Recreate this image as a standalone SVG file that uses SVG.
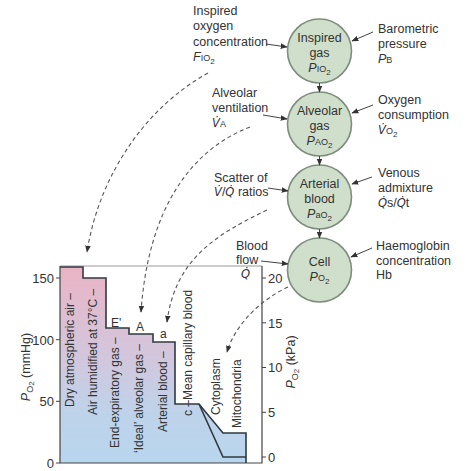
<svg xmlns="http://www.w3.org/2000/svg" width="474" height="471" viewBox="0 0 474 471">
<defs>
<style>
text{font-family:"Liberation Sans",Arial,"DejaVu Sans",sans-serif;fill:#333;font-size:12.5px}
.c{text-anchor:middle}
.dv{font-family:"DejaVu Sans",sans-serif;font-size:11.5px;font-style:italic}
.lbl{font-size:12px}
.tk{font-size:13px}
.node circle{fill:#cfdfcb;stroke:#7d8d7b;stroke-width:1.6}
.arr{stroke:#444;stroke-width:1;fill:none;marker-end:url(#ah)}
.dash{stroke:#555;stroke-width:1.1;fill:none;stroke-dasharray:4 3;marker-end:url(#ah)}
.curve{stroke:#2f3a40;stroke-width:1.6;fill:none}
.ax{stroke:#444;stroke-width:1.2;fill:none}
</style>
<marker id="ah" viewBox="0 0 10 10" refX="9" refY="5" markerWidth="7" markerHeight="7" markerUnits="userSpaceOnUse" orient="auto">
<path d="M0,1 L10,5 L0,9 Z" fill="#333"/>
</marker>
<linearGradient id="g" x1="0" y1="266" x2="0" y2="463" gradientUnits="userSpaceOnUse">
<stop offset="0" stop-color="#eab4c4"/>
<stop offset="0.45" stop-color="#d3c6dc"/>
<stop offset="0.75" stop-color="#bed3ea"/>
<stop offset="1" stop-color="#b8d6ee"/>
</linearGradient>
</defs>
<rect width="474" height="471" fill="#fff"/>

<g id="chart">
<path d="M60,267 H83 V278 H106 V328 H129 V334 H153 V342 H175 V404 H199 L223,433 H246 V463 H60 Z" fill="url(#g)"/>
<line x1="60" y1="266" x2="262" y2="266" stroke="#999" stroke-width="1.2"/>
<path class="ax" d="M60,266 V463 H262 V266"/>
<path class="curve" d="M60,267 H83 V278 H106 V328 H129 V334 H153 V342 H175 V404 H199 L223,433 H246 V463"/>
<path class="curve" d="M199,404 L223,457 H246"/>
<g stroke="#444" stroke-width="1">
<line x1="56" y1="278" x2="60" y2="278"/><line x1="56" y1="339.7" x2="60" y2="339.7"/><line x1="56" y1="401.3" x2="60" y2="401.3"/><line x1="56" y1="463" x2="60" y2="463"/>
<line x1="262" y1="278" x2="266" y2="278"/><line x1="262" y1="322.8" x2="266" y2="322.8"/><line x1="262" y1="367.5" x2="266" y2="367.5"/><line x1="262" y1="412.3" x2="266" y2="412.3"/><line x1="262" y1="457" x2="266" y2="457"/>
</g>
<g class="tk" text-anchor="end">
<text x="54" y="283" class="tk">150</text><text x="54" y="345" class="tk">100</text><text x="54" y="406" class="tk">50</text><text x="54" y="468" class="tk">0</text>
</g>
<text x="268" y="283" class="tk">20</text><text x="268" y="328" class="tk">15</text><text x="268" y="372" class="tk">10</text><text x="268" y="417" class="tk">5</text><text x="268" y="462" class="tk">0</text>
<text class="c" font-size="13" transform="translate(30,367) rotate(-90)"><tspan font-style="italic">P</tspan><tspan font-size="9" dy="3">O</tspan><tspan font-size="8" dy="1">2</tspan><tspan dy="-4"> (mmHg)</tspan></text>
<text class="c" font-size="13" transform="translate(295,362) rotate(-90)"><tspan font-style="italic">P</tspan><tspan font-size="9" dy="3">O</tspan><tspan font-size="8" dy="1">2</tspan><tspan dy="-4"> (kPa)</tspan></text>
<text class="lbl" transform="translate(74,407) rotate(-90)">Dry atmospheric air –</text>
<text class="lbl" transform="translate(97,415) rotate(-90)">Air humidified at 37°C –</text>
<text class="lbl" transform="translate(119,448) rotate(-90)">End-expiratory gas –</text>
<text class="lbl" transform="translate(143,453) rotate(-90)">‘Ideal’ alveolar gas –</text>
<text class="lbl" transform="translate(167,432) rotate(-90)">Arterial blood –</text>
<text class="lbl" transform="translate(192,416) rotate(-90)">c –Mean capillary blood</text>
<text class="lbl" transform="translate(220,415) rotate(-90)">Cytoplasm</text>
<text class="lbl" transform="translate(241,428) rotate(-90)">Mitochondria</text>
<text x="111" y="327" class="lbl">E'</text>
<text x="136" y="331" class="lbl">A</text>
<text x="160" y="338" class="lbl">a</text>
</g>

<g id="node-inspired" class="node">
<circle cx="319.5" cy="51" r="32"/>
<text x="319.5" y="42" class="c">Inspired</text>
<text x="319.5" y="57" class="c">gas</text>
<text x="319.5" y="72" class="c"><tspan font-style="italic">P</tspan><tspan font-size="9">IO</tspan><tspan font-size="8" dy="3">2</tspan></text>
</g>
<g id="node-alveolar" class="node">
<circle cx="319.5" cy="124" r="32"/>
<text x="319.5" y="115" class="c">Alveolar</text>
<text x="319.5" y="130" class="c">gas</text>
<text x="319.5" y="145" class="c"><tspan font-style="italic">P</tspan><tspan font-size="9">AO</tspan><tspan font-size="8" dy="3">2</tspan></text>
</g>
<g id="node-arterial" class="node">
<circle cx="319.5" cy="197" r="32"/>
<text x="319.5" y="188" class="c">Arterial</text>
<text x="319.5" y="203" class="c">blood</text>
<text x="319.5" y="218" class="c"><tspan font-style="italic">P</tspan><tspan font-size="9">aO</tspan><tspan font-size="8" dy="3">2</tspan></text>
</g>
<g id="node-cell" class="node">
<circle cx="319.5" cy="270" r="32"/>
<text x="319.5" y="266" class="c">Cell</text>
<text x="319.5" y="281" class="c"><tspan font-style="italic">P</tspan><tspan font-size="9">O</tspan><tspan font-size="8" dy="3">2</tspan></text>
</g>

<g id="labels">
<text x="193" y="15">Inspired</text>
<text x="193" y="30">oxygen</text>
<text x="193" y="46">concentration</text>
<text x="193" y="61"><tspan font-style="italic">F</tspan><tspan font-size="9">IO</tspan><tspan font-size="8" dy="3">2</tspan></text>
<text x="378" y="33">Barometric</text>
<text x="378" y="48">pressure</text>
<text x="378" y="63"><tspan font-style="italic">P</tspan><tspan font-size="9">B</tspan></text>
<text x="212" y="97">Alveolar</text>
<text x="212" y="112">ventilation</text>
<text x="212" y="127"><tspan class="dv">V̇</tspan><tspan font-size="9">A</tspan></text>
<text x="378" y="104">Oxygen</text>
<text x="378" y="119">consumption</text>
<text x="378" y="134"><tspan class="dv">V̇</tspan><tspan font-size="9">O</tspan><tspan font-size="8" dy="3">2</tspan></text>
<text x="214" y="182">Scatter of</text>
<text x="214" y="196"><tspan class="dv">V̇</tspan>/<tspan class="dv">Q̇</tspan>  ratios</text>
<text x="378" y="177">Venous</text>
<text x="378" y="192">admixture</text>
<text x="378" y="207"><tspan class="dv">Q̇</tspan>s/<tspan class="dv">Q̇</tspan>t</text>
<text x="236" y="250">Blood</text>
<text x="236" y="264">flow</text>
<text x="241" y="278"><tspan class="dv">Q̇</tspan></text>
<text x="376" y="250">Haemoglobin</text>
<text x="376" y="265">concentration</text>
<text x="376" y="279">Hb</text>
</g>

<g id="connectors">
<line class="arr" x1="319.5" y1="83" x2="319.5" y2="92"/>
<line class="arr" x1="319.5" y1="156" x2="319.5" y2="165"/>
<line class="arr" x1="319.5" y1="229" x2="319.5" y2="238"/>
<line class="arr" x1="266" y1="44" x2="287" y2="47"/>
<line class="arr" x1="373" y1="32" x2="352" y2="41"/>
<line class="arr" x1="263" y1="115" x2="287" y2="119"/>
<line class="arr" x1="373" y1="105" x2="352" y2="113"/>
<line class="arr" x1="268" y1="188" x2="288" y2="191"/>
<line class="arr" x1="372" y1="177" x2="352" y2="184"/>
<line class="arr" x1="261" y1="261" x2="288" y2="264"/>
<line class="arr" x1="372" y1="248" x2="351" y2="257"/>
<path class="dash" d="M208,73 C150,105 100,170 87,252"/>
<path class="dash" d="M250,127 C190,150 148,210 141,312"/>
<path class="dash" d="M267,210 C215,235 175,260 167,322"/>
<path class="dash" d="M288,287 C260,300 235,325 227,352"/>
</g>
</svg>
